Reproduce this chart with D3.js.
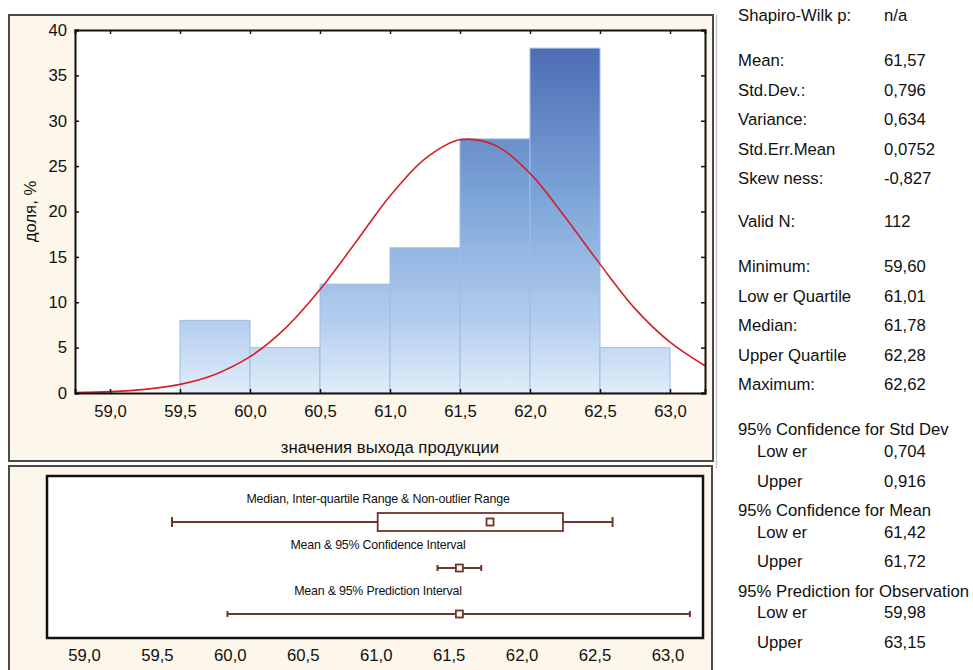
<!DOCTYPE html>
<html>
<head>
<meta charset="utf-8">
<script src="https://cdn.jsdelivr.net/npm/d3@7"></script>
<style>
  html, body { margin: 0; padding: 0; background: #ffffff; }
  svg { display: block; }
  text { font-family: "Liberation Sans", Arial, sans-serif; fill: #111; }
</style>
</head>
<body>
<svg id="chart" width="973" height="670"></svg>
<script>
// ---------------- DATA ----------------
const binLower = [59.5, 60.0, 60.5, 61.0, 61.5, 62.0, 62.5];
const binUpper = [60.0, 60.5, 61.0, 61.5, 62.0, 62.5, 63.0];
const share    = [8, 5, 12, 16, 28, 38, 5];

// fitted normal curve
const curveX = [58.75, 59.0, 59.25, 59.5, 59.75, 60.0, 60.25, 60.5, 60.75, 61.0, 61.25, 61.5, 61.75, 62.0, 62.25, 62.5, 62.75, 63.0, 63.25];
const curveY = [0.05, 0.15, 0.4, 0.95, 2.05, 4.0, 7.1, 11.4, 16.5, 21.7, 25.8, 27.9, 27.3, 24.2, 19.4, 14.2, 9.3, 5.6, 3.0];

const xTicks = [59.0, 59.5, 60.0, 60.5, 61.0, 61.5, 62.0, 62.5, 63.0];
const yTicks = [0, 5, 10, 15, 20, 25, 30, 35, 40];

const xLabel = "значения выхода продукции";
const yLabel = "доля, %";

// box plot rows
const rowLabels = ["Median, Inter-quartile Range & Non-outlier Range", "Mean & 95% Confidence Interval", "Mean & 95% Prediction Interval"];
const rowLow    = [59.60, 61.42, 59.98];
const rowHigh   = [62.62, 61.72, 63.15];
const rowCenter = [61.78, 61.57, 61.57];
const boxLow  = 61.01;
const boxHigh = 62.28;

// statistics table
const statLabels = ["Shapiro-Wilk p:", "Mean:", "Std.Dev.:", "Variance:", "Std.Err.Mean", "Skew ness:", "Valid N:", "Minimum:", "Low er Quartile", "Median:", "Upper Quartile", "Maximum:",
  "95% Confidence for Std Dev", "Low er", "Upper", "95% Confidence for Mean", "Low er", "Upper", "95% Prediction for Observation", "Low er", "Upper"];
const statValues = ["n/a", "61,57", "0,796", "0,634", "0,0752", "-0,827", "112", "59,60", "61,01", "61,78", "62,28", "62,62",
  "", "0,704", "0,916", "", "61,42", "61,72", "", "59,98", "63,15"];
const statIndent = [0,0,0,0,0,0,0,0,0,0,0,0, 0,1,1, 0,1,1, 0,1,1];

// ---------------- LAYOUT ----------------
const svg = d3.select("#chart");
const cream = "#fcf7ea";
const fmt = v => d3.format(".1f")(v).replace(".", ",");
const FS = 16.7;

// panel frames
svg.append("rect").attr("x", 9).attr("y", 15).attr("width", 704).attr("height", 446)
  .attr("fill", cream).attr("stroke", "#4a4a4a").attr("stroke-width", 2);
svg.append("rect").attr("x", 9).attr("y", 466).attr("width", 703).attr("height", 215)
  .attr("fill", cream).attr("stroke", "#4a4a4a").attr("stroke-width", 2);
svg.append("line").attr("x1", 716.5).attr("x2", 716.5).attr("y1", 15).attr("y2", 468)
  .attr("stroke", "#c8c8c8").attr("stroke-width", 1.5);

// ---- histogram ----
const hx = d3.scaleLinear().domain([58.75, 63.25]).range([75, 705]);
const hy = d3.scaleLinear().domain([0, 40]).range([393, 30]);

const defs = svg.append("defs");
const grad = defs.append("linearGradient").attr("id", "barGrad")
  .attr("gradientUnits", "userSpaceOnUse").attr("x1", 0).attr("x2", 0)
  .attr("y1", hy(38)).attr("y2", hy(0));
[[0, "#4d6cb4"], [0.45, "#7fa7da"], [0.79, "#b3cdee"], [1, "#e1edf9"]].forEach(s =>
  grad.append("stop").attr("offset", s[0]).attr("stop-color", s[1]));
defs.append("clipPath").attr("id", "plotClip").append("rect")
  .attr("x", hx.range()[0]).attr("y", hy.range()[1])
  .attr("width", hx.range()[1] - hx.range()[0]).attr("height", hy.range()[0] - hy.range()[1]);

svg.append("rect").attr("x", hx.range()[0]).attr("y", hy.range()[1])
  .attr("width", hx.range()[1] - hx.range()[0]).attr("height", hy.range()[0] - hy.range()[1])
  .attr("fill", "#ffffff");

svg.append("g").selectAll("rect").data(share).join("rect")
  .attr("x", (d, i) => hx(binLower[i]))
  .attr("width", (d, i) => hx(binUpper[i]) - hx(binLower[i]))
  .attr("y", d => hy(d))
  .attr("height", d => hy(0) - hy(d))
  .attr("fill", "url(#barGrad)")
  .attr("stroke", "#9dbde3").attr("stroke-width", 1);

const line = d3.line().x(d => hx(d[0])).y(d => hy(d[1])).curve(d3.curveCatmullRom);
svg.append("path").datum(curveX.map((x, i) => [x, curveY[i]]))
  .attr("clip-path", "url(#plotClip)")
  .attr("d", line).attr("fill", "none").attr("stroke", "#d4202a").attr("stroke-width", 1.6);

// axes
const axB = svg.append("g").attr("transform", `translate(0,${hy(0)})`)
  .call(d3.axisBottom(hx).tickValues(xTicks).tickFormat(fmt).tickSize(-4).tickPadding(12));
const axT = svg.append("g").attr("transform", `translate(0,${hy(40)})`)
  .call(d3.axisTop(hx).tickValues(xTicks).tickFormat("").tickSize(-4));
const axL = svg.append("g").attr("transform", `translate(${hx.range()[0]},0)`)
  .call(d3.axisLeft(hy).tickValues(yTicks).tickSize(-4).tickPadding(8));
const axR = svg.append("g").attr("transform", `translate(${hx.range()[1]},0)`)
  .call(d3.axisRight(hy).tickValues(yTicks).tickFormat("").tickSize(-4));
[axB, axT, axL, axR].forEach(a => {
  a.select(".domain").attr("stroke", "#111").attr("stroke-width", 2);
  a.selectAll(".tick line").attr("stroke", "#111").attr("stroke-width", 1.5);
  a.selectAll(".tick text").attr("font-size", FS).attr("fill", "#111")
    .attr("font-family", "'Liberation Sans', Arial, sans-serif");
});

svg.append("text").attr("x", 390).attr("y", 453).attr("text-anchor", "middle")
  .attr("font-size", FS).text(xLabel);
svg.append("text").attr("transform", `translate(36,${(hy(0) + hy(40)) / 2}) rotate(-90)`)
  .attr("text-anchor", "middle").attr("font-size", FS).text(yLabel);

// ---- box plot panel ----
const bx = d3.scaleLinear().domain([58.75, 63.24]).range([48, 703]);
const brown = "#6e362b";
svg.append("rect").attr("x", 47).attr("y", 476).attr("width", 656).attr("height", 162)
  .attr("fill", "#ffffff").attr("stroke", "#111").attr("stroke-width", 2.5);

const rowY = i => 522 + i * 46;
const rows = svg.append("g");
rowLabels.forEach((lab, i) => {
  const y = rowY(i);
  rows.append("text").attr("x", 378).attr("y", y - 19).attr("text-anchor", "middle")
    .attr("font-size", 12.4).attr("letter-spacing", -0.2).text(lab);
  const cap = i === 0 ? 5 : 3;
  rows.append("line").attr("x1", bx(rowLow[i])).attr("x2", bx(rowHigh[i])).attr("y1", y).attr("y2", y)
    .attr("stroke", brown).attr("stroke-width", 2);
  [rowLow[i], rowHigh[i]].forEach(v => rows.append("line")
    .attr("x1", bx(v)).attr("x2", bx(v)).attr("y1", y - cap).attr("y2", y + cap)
    .attr("stroke", brown).attr("stroke-width", 2));
  if (i === 0) {
    rows.append("rect").attr("x", bx(boxLow)).attr("width", bx(boxHigh) - bx(boxLow))
      .attr("y", y - 9).attr("height", 18).attr("fill", "#ffffff")
      .attr("stroke", brown).attr("stroke-width", 1.8);
  }
  rows.append("rect").attr("x", bx(rowCenter[i]) - 3.5).attr("y", y - 3.5).attr("width", 7).attr("height", 7)
    .attr("fill", "#ffffff").attr("stroke", brown).attr("stroke-width", 1.8);
});

svg.append("g").selectAll("text").data(xTicks).join("text")
  .attr("x", d => bx(d)).attr("y", 661).attr("text-anchor", "middle")
  .attr("font-size", FS).text(fmt);

// ---- statistics ----
const statLead = [0, 45.3, 29.5, 29.5, 29.5, 29.5, 43, 45, 29.5, 29.5, 29.5, 29.5, 44.5, 22.5, 29.5, 29.5, 21.5, 29.5, 29.5, 21.5, 29.5];
let yy = 21;
const stats = svg.append("g");
statLabels.forEach((lab, i) => {
  yy += statLead[i];
  stats.append("text").attr("x", statIndent[i] ? 757 : 738).attr("y", yy)
    .attr("font-size", FS).text(lab);
  if (statValues[i]) stats.append("text").attr("x", 884).attr("y", yy)
    .attr("font-size", FS).text(statValues[i]);
});
</script>
</body>
</html>
